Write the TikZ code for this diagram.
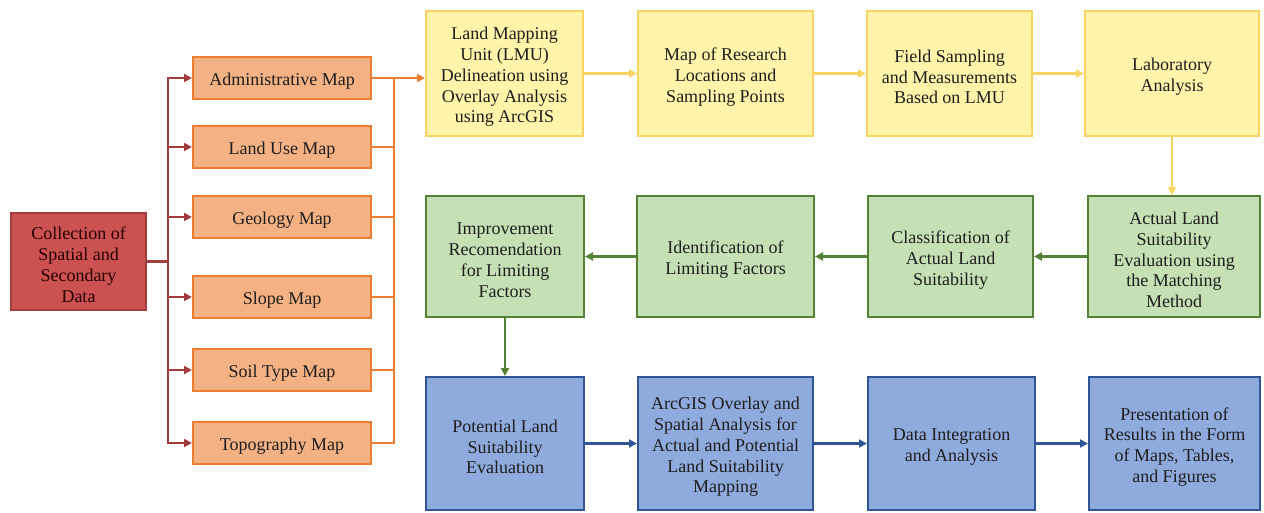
\documentclass[tikz,border=0pt]{standalone}
\usepackage{fontspec}
\setmainfont{Liberation Serif}
\usetikzlibrary{arrows.meta}
\definecolor{redfill}{HTML}{CB5250}
\definecolor{redline}{HTML}{A23B3B}
\definecolor{orfill}{HTML}{F4B183}
\definecolor{orline}{HTML}{ED7D31}
\definecolor{yefill}{HTML}{FFF4AA}
\definecolor{yeline}{HTML}{F8D462}
\definecolor{grfill}{HTML}{C5E0B4}
\definecolor{grline}{HTML}{548235}
\definecolor{blfill}{HTML}{8FAADC}
\definecolor{blline}{HTML}{2F5597}
\definecolor{txt}{HTML}{1E1E1E}
\newcommand{\mystrut}{\rule{0pt}{19.5pt}}
\tikzset{
  box/.style={draw, line width=2pt, align=center, inner sep=2pt, text=txt,
    font=\rmfamily\fontsize{18}{20.8}\selectfont},
  redbox/.style={box, fill=redfill, draw=redline, text=black!85!red},
  orbox/.style={box, fill=orfill, draw=orline, minimum width=178pt, minimum height=42pt},
  yebox/.style={box, fill=yefill, draw=yeline, minimum height=125pt},
  grbox/.style={box, fill=grfill, draw=grline, minimum height=121pt},
  blbox/.style={box, fill=blfill, draw=blline, minimum height=133pt},
  tip/.style={-{Triangle[length=8pt,width=8pt]}},
  redc/.style={draw=redline, line width=2.2pt},
  orc/.style={draw=orline, line width=2.2pt},
  yec/.style={draw=yeline, line width=2.2pt},
  grc/.style={draw=grline, line width=2.2pt},
  blc/.style={draw=blline, line width=2.2pt},
}
\begin{document}
\begin{tikzpicture}[x=1pt,y=-1pt]
\useasboundingbox (0,0) rectangle (1264,512);
% left column
\node[redbox, minimum width=135pt, minimum height=97pt] (coll) at (78.5,261.5) {\mystrut Collection of\\Spatial and\\Secondary\\Data};
\node[orbox] (adm) at (282,78) {\mystrut Administrative Map};
\node[orbox] (lu) at (282,147) {\mystrut Land Use Map};
\node[orbox] (geo) at (282,217) {\mystrut Geology Map};
\node[orbox] (slo) at (282,297) {\mystrut Slope Map};
\node[orbox] (soil) at (282,370) {\mystrut Soil Type Map};
\node[orbox] (topo) at (282,443) {\mystrut Topography Map};
% top row
\node[yebox, minimum width=157pt] (lmu) at (504.5,73.5) {\mystrut Land Mapping\\Unit (LMU)\\Delineation using\\Overlay Analysis\\using ArcGIS};
\node[yebox, minimum width=175pt] (mapr) at (725.5,73.5) {\mystrut Map of Research\\Locations and\\Sampling Points};
\node[yebox, minimum width=165pt] (field) at (949.5,73.5) {\mystrut Field Sampling\\and Measurements\\Based on LMU};
\node[yebox, minimum width=174pt] (lab) at (1172,73.5) {\mystrut Laboratory\\Analysis};
% middle row
\node[grbox, minimum width=158pt] (imp) at (505,256.5) {\mystrut Improvement\\Recomendation\\for Limiting\\Factors};
\node[grbox, minimum width=177pt] (ident) at (725.5,256.5) {\mystrut Identification of\\Limiting Factors};
\node[grbox, minimum width=165pt] (cls) at (950.5,256.5) {\mystrut Classification of\\Actual Land\\Suitability};
\node[grbox, minimum width=172pt] (act) at (1174,256.5) {\mystrut Actual Land\\Suitability\\Evaluation using\\the Matching\\Method};
% bottom row
\node[blbox, minimum width=158pt] (pot) at (505,443.5) {\mystrut Potential Land\\Suitability\\Evaluation};
\node[blbox, minimum width=175pt] (arc) at (725.5,443.5) {\mystrut ArcGIS Overlay and\\Spatial Analysis for\\Actual and Potential\\Land Suitability\\Mapping};
\node[blbox, minimum width=167pt] (dat) at (951.5,443.5) {\mystrut Data Integration\\and Analysis};
\node[blbox, minimum width=171pt] (pres) at (1174.5,443.5) {\mystrut Presentation of\\Results in the Form\\of Maps, Tables,\\and Figures};
% red connectors
\coordinate (rt) at (168,261.5);
\foreach \m in {adm,lu,geo,slo,soil,topo}
  \draw[redc, tip] (coll.east) -- (rt) |- (\m.west);
% orange connectors
\coordinate (ot) at (394,78);
\foreach \m in {lu,geo,slo,soil,topo}
  \draw[orc] (\m.east) -| (ot);
\draw[orc, tip] (adm.east) -- (lmu.west |- adm.east);
% yellow
\draw[yec, tip] (lmu) -- (mapr);
\draw[yec, tip] (mapr) -- (field);
\draw[yec, tip] (field) -- (lab);
\draw[yec, tip] (lab.south) -- (act.north -| lab.south);
% green
\draw[grc, tip] (act) -- (cls);
\draw[grc, tip] (cls) -- (ident);
\draw[grc, tip] (ident) -- (imp);
\draw[grc, tip] (imp.south) -- (pot.north);
% blue
\draw[blc, tip] (pot) -- (arc);
\draw[blc, tip] (arc) -- (dat);
\draw[blc, tip] (dat) -- (pres);
\end{tikzpicture}
\end{document}
